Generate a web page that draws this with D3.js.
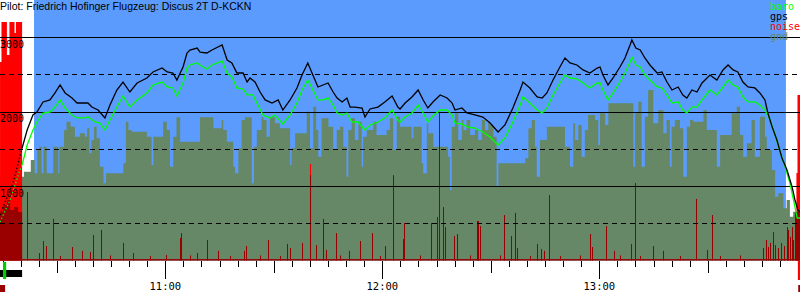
<!DOCTYPE html>
<html>
<head>
<meta charset="utf-8">
<script src="https://cdn.jsdelivr.net/npm/d3@7"></script>
<style>
  body { margin: 0; background: #fff; }
  svg { display: block; }
  text { font-family: "DejaVu Sans Mono", monospace; font-size: 10px; }
</style>
</head>
<body>
<div id="chart"></div>
<script>
// Barogram, times are minutes after 10:00, altitudes in metres
const title = "Pilot: Friedrich Hofinger Flugzeug: Discus 2T D-KCKN";
const viewStart = 14.29, viewEnd = 235.49;
const flightStart = 23.7, flightEnd = 231.6;
const engineStop = 20.4;

const gpsTime = [
  14.3, 15.1, 17.9, 20.4, 21.8, 23.4, 24.5, 26.2, 28.1, 29.5, 30.9,
  32.3, 34.2, 35.6, 37.8, 38.6, 39.7, 41.4, 43.3, 44.7, 46.6, 48.3, 50.2, 52.2,
  54.9, 56.6, 59.1, 60.5, 62.1, 63.2, 64.9, 66.0, 66.8, 68.8, 69.6, 71.5, 72.9,
  75.7, 77.1, 78.4, 79.8, 81.5, 82.6, 83.4, 84.8, 86.2, 87.6, 89.5, 91.2, 92.5, 94.5,
  96.4, 97.8, 99.4, 100.8, 102.2, 103.6, 105.0, 106.4, 107.5, 108.9, 110.2, 111.1, 112.4, 114.4, 115.2,
  116.6, 118.8, 120.7, 122.7, 124.3, 124.9, 126.3, 128.2, 129.9, 131.3, 132.6, 134.0, 136.0,
  137.9, 139.3, 140.1, 142.0, 143.4, 145.6, 147.8, 149.8, 152.0, 153.9, 156.1, 158.1, 158.9,
  160.8, 162.8, 164.2, 165.5, 167.2, 169.1, 170.5, 171.9, 173.8, 175.5, 177.4, 179.4, 180.2,
  181.0, 182.4, 183.8, 185.7, 187.1, 188.5, 189.0, 190.1, 191.3, 192.6, 194.0, 196.0, 197.3, 198.7,
  200.1, 201.8, 203.1, 204.2, 205.6, 207.0, 208.4, 210.6, 212.5, 214.2, 215.6, 217.0, 218.3, 219.7,
  221.1, 223.0, 224.4, 225.8, 226.6, 227.8, 229.1, 230.5, 231.9, 233.3, 234.1, 234.9, 235.5
];
const gpsAlt = [
  611, 719, 1041, 1512, 1753, 1955, 1995, 2130, 2157, 2251, 2358,
  2251, 2183, 2116, 2116, 2116, 2062, 2022, 1915, 2089, 2291, 2398, 2264, 2385,
  2452, 2533, 2586, 2533, 2519, 2425, 2600, 2788, 2828, 2855, 2801, 2788, 2828,
  2895, 2694, 2654, 2519, 2519, 2398, 2452, 2398, 2264, 2157, 2116, 2157, 2022, 2157,
  2318, 2492, 2654, 2492, 2331, 2358, 2385, 2264, 2183, 2130, 2183, 2062, 2062, 2049, 1928,
  2036, 2062, 2130, 2210, 2062, 2036, 2116, 2197, 2291, 2157, 2049, 2130, 2224,
  2183, 2116, 2022, 2049, 1982, 1955, 1928, 1847, 1727, 1821, 2049, 2291, 2398,
  2318, 2197, 2183, 2251, 2425, 2600, 2721, 2654, 2627, 2560, 2519, 2586, 2600,
  2492, 2358, 2452, 2600, 2721, 2895, 2963, 2855, 2828, 2721, 2627, 2519, 2533, 2398,
  2291, 2331, 2224, 2183, 2291, 2264, 2385, 2492, 2425, 2560, 2627, 2560, 2533, 2398,
  2331, 2318, 2251, 2157, 1982, 1794, 1619, 1377, 1216, 988, 813, 679, 652
];

const baroTime = [
  14.3, 17.1, 19.8, 20.4, 21.8, 23.4, 24.5, 26.2, 28.1, 29.5, 30.9,
  32.3, 34.2, 35.6, 37.8, 38.6, 40.6, 41.9, 43.3, 44.7, 46.6, 48.3, 50.2, 52.2,
  54.9, 56.6, 59.1, 60.5, 62.1, 63.2, 64.9, 66.0, 66.8, 68.8, 69.6, 71.5, 72.9,
  75.7, 77.1, 78.4, 79.8, 81.5, 82.6, 84.2, 85.6, 87.0, 88.9, 90.3, 92.5, 94.5,
  96.4, 97.8, 99.4, 100.8, 102.2, 103.6, 105.0, 106.4, 107.5, 108.9, 110.2, 111.6, 113.3, 115.2,
  116.6, 118.8, 120.7, 122.7, 124.3, 124.9, 126.3, 128.2, 129.9, 131.3, 132.6, 134.0, 136.0,
  137.9, 139.3, 140.1, 142.0, 143.4, 145.6, 147.8, 149.8, 152.0, 153.9, 156.1, 158.1, 158.9,
  160.8, 162.8, 164.2, 165.5, 167.2, 169.1, 170.5, 171.9, 173.8, 175.5, 177.4, 179.4, 180.2,
  181.0, 182.4, 183.8, 185.7, 187.1, 188.5, 189.0, 190.1, 191.3, 192.6, 194.0, 196.0, 197.3, 198.7,
  200.1, 201.8, 203.1, 204.2, 205.6, 207.0, 208.4, 210.6, 212.5, 214.2, 215.6, 217.0, 218.3, 219.7,
  221.1, 223.0, 224.4, 225.8, 227.2, 228.6, 230.0, 231.4, 232.7, 234.1, 234.7, 235.5
];
const baroAlt = [
  517, 813, 1216, 1283, 1552, 1753, 1861, 1982, 1995, 2062, 2157,
  2049, 1955, 1915, 1915, 1928, 1861, 1847, 1753, 1888, 2062, 2210, 2062, 2157,
  2251, 2358, 2398, 2331, 2318, 2210, 2385, 2586, 2627, 2654, 2627, 2573, 2627,
  2680, 2519, 2466, 2318, 2304, 2224, 2224, 2089, 1955, 1915, 1955, 1834, 1955,
  2116, 2291, 2425, 2291, 2157, 2157, 2183, 2089, 1982, 1955, 1982, 1861, 1861, 1753,
  1821, 1861, 1915, 2022, 1888, 1861, 1928, 1982, 2089, 1982, 1861, 1942, 2022,
  2022, 1955, 1847, 1834, 1794, 1780, 1727, 1659, 1552, 1646, 1861, 2089, 2197,
  2116, 2022, 1982, 2049, 2224, 2385, 2492, 2452, 2439, 2385, 2318, 2385, 2385,
  2291, 2157, 2251, 2398, 2519, 2667, 2734, 2627, 2600, 2492, 2425, 2331, 2318, 2224,
  2116, 2130, 2022, 1982, 2062, 2062, 2157, 2291, 2224, 2331, 2425, 2358, 2331, 2197,
  2130, 2130, 2089, 2022, 1888, 1686, 1458, 1256, 1041, 719, 571, 571
];

// ground elevation under the track (steps)
const gndTime = [
  14.3, 20.9, 22.8, 23.9, 24.6, 25.2, 25.8, 26.3, 27.2, 29.0,
  30.4, 30.7, 32.0, 32.7, 33.8, 35.0, 36.4, 37.8, 38.4, 39.0,
  39.6, 40.3, 41.0, 41.9, 42.9, 43.6, 48.4, 49.1, 49.8, 50.7,
  54.9, 56.2, 56.7, 59.4, 60.4, 61.3, 62.2, 63.1, 64.1, 69.6,
  73.3, 75.6, 76.0, 77.0, 78.8, 79.3, 80.2, 81.1, 82.0, 83.9,
  84.5, 85.3, 86.6, 87.1, 88.0, 88.9, 90.3, 91.7, 94.5, 94.9,
  95.9, 99.1, 100.0, 100.9, 101.7, 102.3, 103.2, 105.1, 106.4, 107.4,
  108.3, 109.2, 110.1, 110.6, 111.5, 112.4, 113.4, 114.3, 114.7, 115.7,
  117.5, 118.4, 121.2, 122.1, 123.0, 124.0, 124.9, 128.1, 128.6, 130.9,
  131.3, 132.3, 132.7, 134.1, 138.2, 138.7, 139.2, 140.1, 141.0, 142.0,
  142.4, 143.3, 144.3, 145.6, 146.5, 147.5, 148.4, 149.3, 149.8, 150.7,
  151.6, 152.1, 159.5, 160.4, 161.3, 162.2, 162.7, 163.6, 165.5, 170.5,
  171.9, 172.8, 173.3, 174.2, 175.1, 176.0, 176.9, 178.8, 179.7, 180.2,
  181.6, 182.5, 189.4, 189.9, 190.8, 191.7, 192.6, 193.5, 194.9, 196.3,
  197.7, 198.6, 199.5, 200.0, 200.9, 202.3, 203.2, 204.2, 205.1, 206.0,
  208.8, 209.7, 212.5, 213.4, 216.6, 218.0, 218.9, 219.8, 220.8, 222.1,
  223.0, 224.4, 225.8, 226.3, 227.7, 228.6, 229.5, 230.9, 231.8, 232.7,
  233.6, 235.5
];
const gndAlt = [
  1126, 1193, 1350, 1172, 1485, 1529, 1172, 1529, 1172, 1529,
  1172, 1529, 1753, 1865, 1798, 1663, 1709, 1663, 1776, 1440,
  1619, 1798, 1642, 1260, 1037, 1172, 1306, 1865, 1753, 1731,
  1663, 1283, 1663, 1865, 1753, 1260, 1663, 1924, 1596, 1924,
  1776, 1888, 1753, 1596, 1260, 1172, 1508, 1888, 1924, 1037,
  1529, 1753, 1924, 1888, 1663, 1924, 1843, 1776, 1283, 1508,
  1709, 1999, 1508, 2066, 1753, 1395, 1911, 1798, 1485, 1753,
  1798, 1529, 1126, 1753, 1911, 1619, 1865, 1260, 1663, 1753,
  1865, 1686, 1753, 1911, 1485, 1932, 1798, 1642, 1798, 1306,
  1172, 1843, 1709, 1529, 1395, 947, 1798, 1978, 1619, 1888,
  1753, 1888, 1686, 1753, 1619, 1888, 1753, 1865, 1821, 1663,
  992, 1306, 1373, 1776, 1888, 1529, 1126, 1619, 1798, 1529,
  1260, 1843, 1619, 1821, 1395, 1753, 1955, 1888, 1552, 1978,
  1821, 2112, 1260, 1978, 2134, 1260, 1932, 2291, 1843, 2022,
  1709, 1888, 1260, 1798, 1888, 1776, 1126, 1798, 1888, 1865,
  2022, 1753, 1260, 1686, 1978, 2066, 1686, 1395, 1575, 1888,
  1395, 1932, 1663, 1485, 1216, 857, 903, 701, 813, 588,
  656, 656
];

// noise (ENL, 0..1000): single spikes
const noiseTime = [
  21.8, 25.1, 26.2, 27.0, 28.9, 30.9, 34.2, 37.0, 39.2, 40.0,
  42.2, 44.7, 48.3, 51.1, 55.8, 60.2, 64.1, 64.3, 66.8, 68.8,
  71.5, 74.6, 77.9, 81.8, 82.3, 86.2, 88.4, 91.7, 93.6, 94.5,
  97.8, 100.0, 101.7, 103.6, 104.4, 107.2, 108.3, 110.8, 113.8, 117.1,
  119.4, 120.7, 123.0, 125.7, 126.0, 130.4, 133.5, 135.1, 135.7, 136.8,
  137.3, 139.8, 140.6, 144.2, 146.2, 146.5, 147.0, 152.5, 153.6, 155.6,
  156.7, 157.2, 160.8, 162.8, 163.9, 164.7, 166.1, 169.1, 174.7, 177.4,
  178.0, 181.8, 184.1, 185.7, 188.8, 189.9, 191.3, 194.8, 197.6, 202.3,
  206.7, 209.8, 211.2, 213.4, 218.9, 225.3, 226.1, 226.6, 227.2, 228.0,
  228.6, 229.4, 230.2, 231.1, 231.9, 232.2, 232.7, 233.3, 233.6
];
const noiseLevel = [
  285, 31, 81, 60, 173, 19, 56, 40, 35, 106,
  127, 21, 73, 31, 19, 23, 94, 114, 21, 31,
  85, 40, 19, 40, 60, 21, 85, 19, 69, 52,
  73, 355, 64, 173, 44, 114, 21, 40, 81, 114,
  19, 60, 355, 89, 156, 21, 156, 181, 613, 222,
  139, 102, 110, 21, 164, 164, 143, 21, 189, 102,
  198, 52, 19, 69, 48, 40, 272, 19, 21, 110,
  56, 143, 40, 21, 69, 322, 19, 60, 40, 19,
  256, 44, 189, 19, 21, 52, 85, 56, 73, 118,
  64, 52, 73, 60, 139, 127, 98, 139, 85
];
const noiseFloor = 6;
const noiseStep = 0.28; // logger interval, minutes

// noise while the engine runs (steps)
const engineTime = [14.3, 14.7, 16.2, 16.9, 18.3, 18.7, 20.4, 100.0, 100.3, 234.5, 234.8, 235.5];
const engineLevel = [825, 992, 854, 992, 946, 992, 0, 401, 0, 364, 688, 688];
const noiseBlockTime = [14.3, 15.1, 16.2, 17.1, 18.2, 19.3, 20.4, 234.1, 235.5];
const noiseBlockLevel = [202, 231, 252, 210, 222, 202, 0, 202, 202];

const gridLevels = [500, 1000, 1500, 2000, 2500, 3000];
const altLabels = [1000, 2000, 3000];
const legendLabels = ["baro", "gps", "noise", "gnd"];
const legendColors = ["#00ff00", "#000000", "#ff0000", "#668866"];

const colors = {
  sky: "#5b9bfd", gnd: "#668866", baro: "#00ff00", gps: "#000000",
  engine: "#ff0000", noise: "#990000", takeoff: "#00cc00"
};

const width = 800, height = 300;
const baseY = 260.5;
const day = new Date(2000, 0, 1, 10, 0);
const toDate = (m) => new Date(day.getTime() + m * 60000);

const x = d3.scaleTime().domain([toDate(viewStart), toDate(viewEnd)]).range([0, width]);
const y = d3.scaleLinear().domain([0, 3500]).range([baseY, 0]);
const yNoise = d3.scaleLinear().domain([0, 1000]).range([baseY, 20]);

const svg = d3.select("#chart").append("svg")
  .attr("width", width).attr("height", height);

svg.append("rect").attr("width", width).attr("height", height).attr("fill", "#fff");

// flight period
svg.append("rect")
  .attr("x", x(toDate(flightStart)))
  .attr("y", 0)
  .attr("width", x(toDate(flightEnd)) - x(toDate(flightStart)))
  .attr("height", baseY)
  .attr("fill", colors.sky);

const zip = (ts, vs) => ts.map((t, i) => ({ t: toDate(t), v: vs[i] }));

// ground
svg.append("path")
  .datum(zip(gndTime, gndAlt))
  .attr("fill", colors.gnd)
  .attr("d", d3.area().curve(d3.curveStepAfter)
    .x((d) => x(d.t)).y0(baseY).y1((d) => y(d.v)));

// engine noise and noise blocks
const stepArea = d3.area().curve(d3.curveStepAfter)
  .x((d) => x(d.t)).y0(baseY).y1((d) => yNoise(d.v));

svg.append("path").datum(zip(engineTime, engineLevel))
  .attr("fill", colors.engine).attr("d", stepArea);
svg.append("path").datum(zip(noiseBlockTime, noiseBlockLevel))
  .attr("fill", colors.noise).attr("d", stepArea);

svg.append("g").selectAll("rect")
  .data(zip(noiseTime, noiseLevel))
  .join("rect")
  .attr("x", (d) => Math.round(x(d.t)))
  .attr("y", (d) => yNoise(d.v))
  .attr("width", (d) => Math.max(1, x(toDate(0)) - x(toDate(-noiseStep))))
  .attr("height", (d) => baseY - yNoise(d.v))
  .attr("fill", colors.noise);

svg.append("rect")
  .attr("x", x(toDate(viewStart)))
  .attr("y", yNoise(noiseFloor))
  .attr("width", x(toDate(viewEnd)) - x(toDate(viewStart)))
  .attr("height", baseY - yNoise(noiseFloor))
  .attr("fill", colors.noise);

// grid lines
svg.append("g").selectAll("line")
  .data(gridLevels)
  .join("line")
  .attr("x1", 0).attr("x2", width)
  .attr("y1", (d) => Math.round(y(d)) + 0.5)
  .attr("y2", (d) => Math.round(y(d)) + 0.5)
  .attr("stroke", "#000")
  .attr("stroke-width", 1)
  .attr("stroke-dasharray", (d) => (d % 1000 === 0 ? null : "5,4"));

svg.append("g").selectAll("text")
  .data(altLabels)
  .join("text")
  .attr("x", 0)
  .attr("y", (d) => y(d) + 10.8)
  .attr("fill", "#000")
  .text((d) => d);

// baro and gps lines, dotted while the engine runs
function drawTrack(ts, vs, color) {
  const pts = zip(ts, vs);
  const line = d3.line().x((d) => x(d.t)).y((d) => y(d.v));
  const stop = toDate(engineStop);
  svg.append("path")
    .datum(pts.filter((d) => d.t <= stop))
    .attr("fill", "none").attr("stroke", color)
    .attr("stroke-width", 1.3).attr("stroke-dasharray", "1.3,2.2")
    .attr("d", line);
  svg.append("path")
    .datum(pts.filter((d) => d.t >= stop))
    .attr("fill", "none").attr("stroke", color)
    .attr("stroke-width", 1.3)
    .attr("d", line);
}
drawTrack(baroTime, baroAlt, colors.baro);
drawTrack(gpsTime, gpsAlt, colors.gps);

// time axis: ticks every 5 minutes, longer at half hours and hours
const axisY = 261;
const ticks = x.ticks(d3.timeMinute.every(5));
svg.append("g").selectAll("line")
  .data(ticks)
  .join("line")
  .attr("x1", (d) => Math.round(x(d)) + 0.5)
  .attr("x2", (d) => Math.round(x(d)) + 0.5)
  .attr("y1", axisY)
  .attr("y2", (d) => axisY + (d.getMinutes() === 0 ? 18 : d.getMinutes() === 30 ? 12 : 6))
  .attr("stroke", "#000");

svg.append("g").selectAll("text")
  .data(ticks.filter((d) => d.getMinutes() === 0))
  .join("text")
  .attr("x", (d) => x(d))
  .attr("y", 290)
  .attr("text-anchor", "middle")
  .style("font-size", "10.5px")
  .text(d3.timeFormat("%H:%M"));

// markers under the axis
svg.append("rect")
  .attr("x", x(toDate(viewStart))).attr("y", 270)
  .attr("width", x(toDate(engineStop)) - x(toDate(viewStart))).attr("height", 7)
  .attr("fill", "#000");
svg.append("rect")
  .attr("x", x(toDate(15.1))).attr("y", 262)
  .attr("width", x(toDate(16.0)) - x(toDate(15.1))).attr("height", 17)
  .attr("fill", colors.takeoff);
svg.append("rect")
  .attr("x", x(toDate(viewStart))).attr("y", 285)
  .attr("width", x(toDate(15.7)) - x(toDate(viewStart))).attr("height", 7)
  .attr("fill", colors.noise);
svg.append("rect")
  .attr("x", x(toDate(234.9))).attr("y", 261)
  .attr("width", x(toDate(viewEnd)) - x(toDate(234.9))).attr("height", 19)
  .attr("fill", colors.engine);
svg.append("rect")
  .attr("x", x(toDate(235.0))).attr("y", 285)
  .attr("width", x(toDate(viewEnd)) - x(toDate(235.0))).attr("height", 7)
  .attr("fill", colors.noise);

// legend
svg.append("g").selectAll("text")
  .data(legendLabels)
  .join("text")
  .attr("x", 770)
  .attr("y", (d, i) => 9.5 + i * 10)
  .attr("fill", (d, i) => legendColors[i])
  .text((d) => d);

// title
svg.append("text")
  .attr("x", 0)
  .attr("y", 10)
  .style("font-family", "'Liberation Sans', Arial, sans-serif")
  .style("font-size", "10.5px")
  .attr("fill", "#000")
  .text(title);
</script>
</body>
</html>
